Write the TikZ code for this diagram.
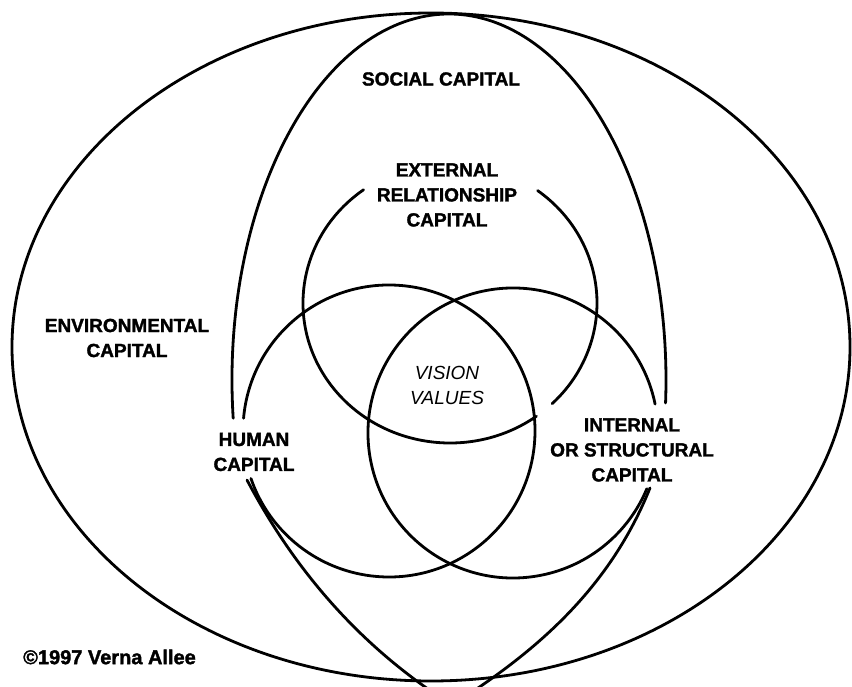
\documentclass[tikz,border=0pt]{standalone}
\usepackage{fontspec}
\setmainfont{Liberation Sans}[BoldFeatures={FakeBold=1.6}]

\begin{document}
\begin{tikzpicture}[x=1pt, y=1pt,
  ring/.style={line width=2.8pt, line cap=round},
  capital/.style={font=\fontsize{19}{25}\selectfont\bfseries, align=center, inner sep=0pt},
  core/.style={font=\fontsize{19}{25}\selectfont\itshape, align=center, inner sep=0pt},
  credit/.style={font=\fontsize{20}{22}\selectfont\bfseries, inner sep=0pt}
]
  \clip (0,0) rectangle (852,686);

  % centres of the rings
  \coordinate (env) at (431,339);
  \coordinate (soc) at (449,306);
  \coordinate (ext) at (450,383);
  \coordinate (hum) at (389,255);
  \coordinate (int) at (513,253);

  % environmental capital
  \draw[ring] (env) ellipse [x radius=419, y radius=334];

  % social capital: arch on top, pointed bottom under the labels
  \draw[ring] ([shift={(186:217 and 366)}]soc) arc [start angle=186, end angle=-3.6, x radius=217, y radius=366];
  \draw[ring] (650,198) .. controls (611,101) and (541,37) .. (452,-19)
                        .. controls (363,37) and (296,113) .. (247,206);

  % external relationship, human and internal capital
  \draw[ring] ([shift={(126:147 and 140)}]ext) arc [start angle=126, end angle=306, x radius=147, y radius=140];
  \draw[ring] ([shift={(-46:147 and 140)}]ext) arc [start angle=-46, end angle=53.4, x radius=147, y radius=140];
  \draw[ring] ([shift={(175:146)}]hum) arc [start angle=175, end angle=-161, radius=146];
  \draw[ring] ([shift={(11.5:145)}]int) arc [start angle=11.5, end angle=337.4, radius=145];

  \node[capital] (social) at (441,607) {SOCIAL CAPITAL};
  \node[capital] (external) at (447,491) {EXTERNAL\\RELATIONSHIP\\CAPITAL};
  \node[core] (vision) at (447,301) {VISION\\VALUES};
  \node[capital] (human) at (254,234) {HUMAN\\CAPITAL};
  \node[capital] (internal) at (632,236) {INTERNAL\\OR STRUCTURAL\\CAPITAL};
  \node[capital] (environ) at (127,348) {ENVIRONMENTAL\\CAPITAL};
  \node[credit, anchor=west] (credit) at (23,29) {©1997 Verna Allee};
\end{tikzpicture}
\end{document}
